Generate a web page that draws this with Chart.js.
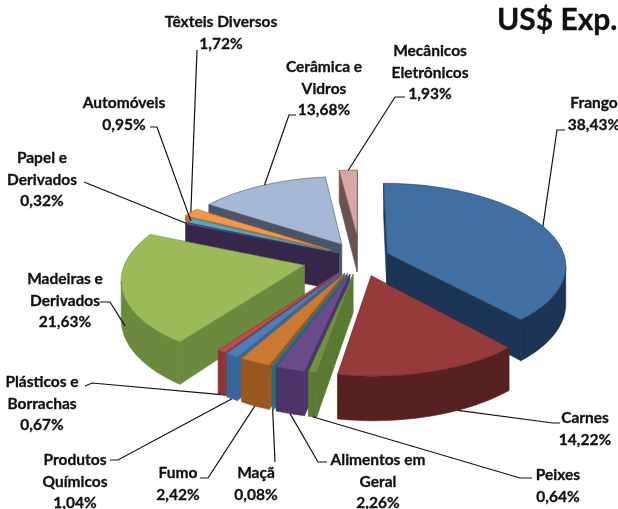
<!DOCTYPE html>
<html><head><meta charset="utf-8">
<style>html,body{margin:0;padding:0;background:#fff}canvas{display:block}</style>
<script src="https://cdn.jsdelivr.net/npm/chart.js@4"></script>
</head><body><canvas id="c" width="618" height="509"></canvas>
<script>
const categories = ["Frango","Carnes","Peixes","Alimentos em Geral","Maçã","Fumo","Produtos Químicos","Plásticos e Borrachas","Madeiras e Derivados","Papel e Derivados","Automóveis","Têxteis Diversos","Cerâmica e Vidros","Mecânicos Eletrônicos"];
const values = [38.43,14.22,0.64,2.26,0.08,2.42,1.04,0.67,21.63,0.32,0.95,1.72,13.68,1.93];
const topColors = ["#3f6fa3","#963b39","#6f9440","#6a4c8c","#2a8ea8","#c97a30","#4a7ebb","#be4b48","#9bbb59","#6f5796","#4bacc6","#f79646","#a6b8d8","#d9a6a6"];
const wallColors = ["#1c3556","#562120","#5a7a33","#4a3468","#1f6f85","#97591f","#3a659a","#8c3532","#6b8a3e","#36274a","#2f7f95","#b86e2c","#4a5668","#6a5252"];
const explode = [0.163,0.22,0.2,0.2,0.2,0.2,0.2,0.2,0.32,0.13,0.13,0.2,0.2,0.28];
const labelLines = [["Frango","38,43%"],["Carnes","14,22%"],["Peixes","0,64%"],["Alimentos em","Geral","2,26%"],["Maçã","0,08%"],["Fumo","2,42%"],["Produtos","Químicos","1,04%"],["Plásticos e","Borrachas","0,67%"],["Madeiras e","Derivados","21,63%"],["Papel e","Derivados","0,32%"],["Automóveis","0,95%"],["Têxteis Diversos","1,72%"],["Cerâmica e","Vidros","13,68%"],["Mecânicos","Eletrônicos","1,93%"]];
const labelX = [594,585,558,378,256,178,75,42,65,42,124,221,324,430];
const labelY = [103,418,475,460,473,473,460,382,279,158,103,22,67,51];
const leaderStart = [[565,130],[560,423],[532,478],[327,462],[275,462],[200,478],[110,460],[85,386],[100,302],[84,182],[150,127],[197,50],[296,115],[405,97]];
const leaderElbow = [[557,130],[553,423],[520,478],[318,462],null,[208,478],[118,460],[92,383],[110,302],null,[157,127],null,[289,115],[395,97]];
const leaderFrac = [0.5,0.35,0.5,0.5,0.5,0.5,0.5,0.5,0.42,0.5,0.5,0.5,0.52,0.5];
const leaderDepth = [0,1,1,1,1,1,1,1,0.7,0,0,0,0,0];
const titleText = "US$ Exp.";

const BASE_R = 200, PX = 178/BASE_R, PY = 81/BASE_R, PERSP = 0.14, DEPTH = 37;

function project(el, u, v, z){
  const s = 1/(1-PERSP*v);
  return [el.x + PX*el.outerRadius*u*s, el.y + (PY*el.outerRadius*v + DEPTH*z)*s];
}
function slicePts(el){
  const a = el.options.offset/el.outerRadius, mid=(el.startAngle+el.endAngle)/2;
  const ox=a*Math.cos(mid), oy=a*Math.sin(mid);
  const n=Math.max(2,Math.ceil((el.endAngle-el.startAngle)/0.03));
  const arc=[];
  for(let i=0;i<=n;i++){const t=el.startAngle+(el.endAngle-el.startAngle)*i/n;arc.push([ox+Math.cos(t),oy+Math.sin(t)]);}
  return {apex:[ox,oy],arc};
}
function isFacing(el,a,b){
  const p=[project(el,a[0],a[1],0),project(el,b[0],b[1],0),project(el,b[0],b[1],1),project(el,a[0],a[1],1)];
  let area=0;for(let i=0;i<4;i++){const q=p[(i+1)%4];area+=p[i][0]*q[1]-q[0]*p[i][1];}
  return area<0;
}
function wallRun(ctx,el,run,fill){
  if(run.length<2)return;
  ctx.beginPath();
  run.forEach((q,i)=>{const P=project(el,q[0],q[1],0);i?ctx.lineTo(P[0],P[1]):ctx.moveTo(P[0],P[1]);});
  run.slice().reverse().forEach(q=>{const P=project(el,q[0],q[1],1);ctx.lineTo(P[0],P[1]);});
  ctx.closePath();
  ctx.fillStyle=fill;ctx.strokeStyle=fill;ctx.lineWidth=0.6;ctx.fill();ctx.stroke();
}
const pie3d = {
  id:'pie3d',
  beforeDatasetDraw(chart,args){
    const ctx=chart.ctx, els=args.meta.data;
    const order=els.map((el,i)=>i).sort((i,j)=>{
      const f=el=>{const m=(el.startAngle+el.endAngle)/2;return (el.options.offset/el.outerRadius+0.5)*Math.sin(m);};
      return f(els[i])-f(els[j]);});
    ctx.save();
    order.forEach(i=>{
      const el=els[i],g=slicePts(el),wall=wallColors[i],last=g.arc[g.arc.length-1];
      if(isFacing(el,g.apex,g.arc[0]))wallRun(ctx,el,[g.apex,g.arc[0]],wall);
      if(isFacing(el,last,g.apex))wallRun(ctx,el,[last,g.apex],wall);
      let run=[];
      for(let k=0;k<g.arc.length-1;k++){
        if(isFacing(el,g.arc[k],g.arc[k+1])){ if(!run.length)run.push(g.arc[k]); run.push(g.arc[k+1]); }
        else { wallRun(ctx,el,run,wall); run=[]; }
      }
      wallRun(ctx,el,run,wall);
      ctx.beginPath();
      const A=project(el,g.apex[0],g.apex[1],0);ctx.moveTo(A[0],A[1]);
      g.arc.forEach(q=>{const P=project(el,q[0],q[1],0);ctx.lineTo(P[0],P[1]);});
      ctx.closePath();
      ctx.fillStyle=el.options.backgroundColor;ctx.fill();
      ctx.strokeStyle=wall;ctx.lineWidth=0.6;ctx.stroke();
    });
    ctx.restore();
    return false;
  },
  afterDraw(chart){
    const ctx=chart.ctx, els=chart.getDatasetMeta(0).data;
    ctx.save();
    ctx.strokeStyle="#111";ctx.lineWidth=1.2;ctx.fillStyle="#111";
    els.forEach((el,i)=>{
      const a=el.options.offset/el.outerRadius,mid=(el.startAngle+el.endAngle)/2;
      const t=el.startAngle+(el.endAngle-el.startAngle)*leaderFrac[i];
      const E=project(el,a*Math.cos(mid)+Math.cos(t),a*Math.sin(mid)+Math.sin(t),leaderDepth[i]);
      ctx.beginPath();ctx.moveTo(leaderStart[i][0],leaderStart[i][1]);
      if(leaderElbow[i])ctx.lineTo(leaderElbow[i][0],leaderElbow[i][1]);
      ctx.lineTo(E[0],E[1]);ctx.stroke();
    });
    ctx.font='bold 15.5px Lato';ctx.textAlign='center';ctx.textBaseline='middle';ctx.lineWidth=0.3;
    labelLines.forEach((lines,i)=>lines.forEach((t,k)=>{
      ctx.fillText(t,labelX[i],labelY[i]+k*21.5);ctx.strokeText(t,labelX[i],labelY[i]+k*21.5);}));
    ctx.font='bold 30px Lato';ctx.textAlign='left';
    ctx.fillText(titleText,497,20);ctx.strokeText(titleText,497,20);
    ctx.restore();
  }
};
new Chart(document.getElementById('c'),{
  type:'pie',
  data:{labels:categories,datasets:[{data:values,backgroundColor:topColors,borderWidth:0,
    offset:explode.map(a=>a*BASE_R)}]},
  options:{responsive:false,animation:false,radius:BASE_R,
    layout:{padding:{left:102,top:7}},
    plugins:{legend:{display:false},tooltip:{enabled:false},title:{display:false}}},
  plugins:[pie3d]
});
</script></body></html>
